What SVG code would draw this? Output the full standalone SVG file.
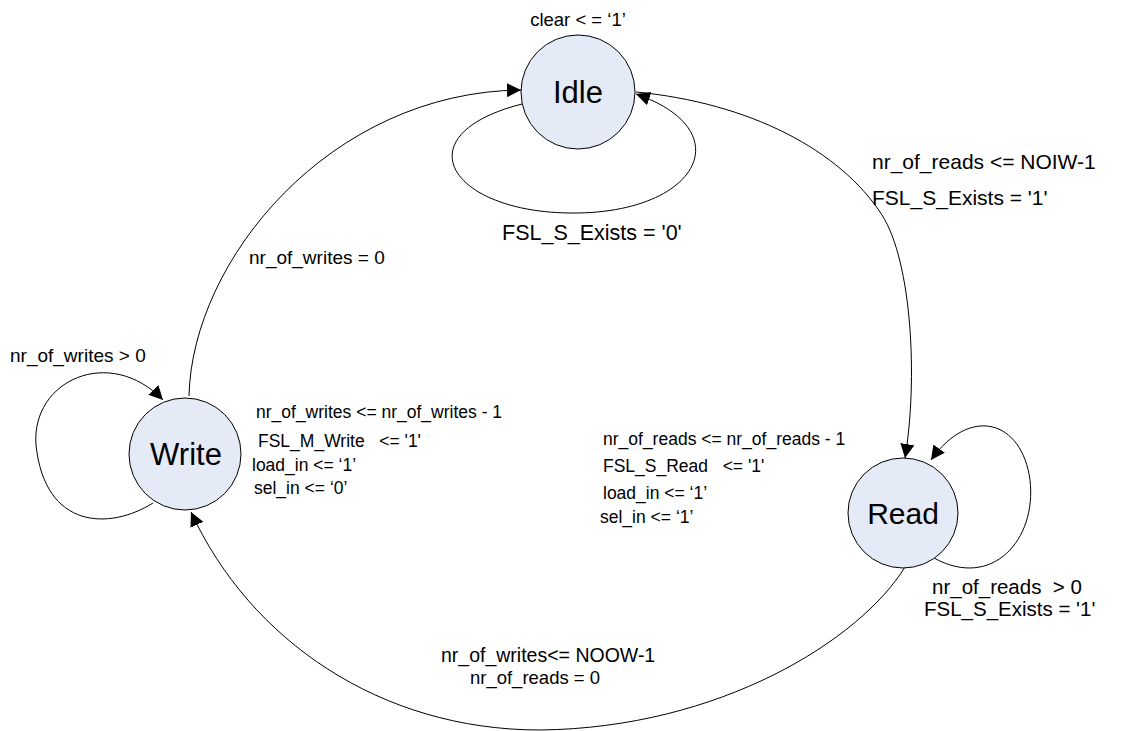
<svg xmlns="http://www.w3.org/2000/svg" width="1131" height="731" viewBox="0 0 1131 731">
  <style>
    .state { fill: #e4ebf6; stroke: #000; stroke-width: 1; }
    .name { font-family: "Liberation Sans", Arial, sans-serif; font-size: 30px; fill: #000; text-anchor: middle; }
    .lbl { font-family: "Liberation Sans", Arial, sans-serif; font-size: 17.5px; fill: #000; }
    .mid { text-anchor: middle; }
    .edge { fill: none; stroke: #000; stroke-width: 1; }
  </style>
  <defs>
    <marker id="arrow" viewBox="0 0 10 10" refX="10" refY="5" markerWidth="14" markerHeight="14" markerUnits="userSpaceOnUse" orient="auto">
      <path d="M0,0 L10,5 L0,10 z" fill="#000"/>
    </marker>
  </defs>
  <rect width="1131" height="731" fill="#fff"/>

  <!-- transitions -->
  <g id="connectors">
    <!-- Write -> Idle -->
    <path class="edge" d="M 189 396 C 192 260, 330 92, 521 90" marker-end="url(#arrow)"/>
    <!-- Idle self-loop -->
    <path class="edge" d="M 522 104 C 400 135, 450 215, 578 213 C 700 211, 740 130, 636 94" marker-end="url(#arrow)"/>
    <!-- Idle -> Read -->
    <path class="edge" d="M 636 92 C 750 103, 840 150, 882 215 C 912 262, 918 380, 905 458" marker-end="url(#arrow)"/>
    <!-- Write self-loop -->
    <path class="edge" d="M 153 503 C 110 530, 45 530, 36 445 C 31 380, 110 345, 163 400" marker-end="url(#arrow)"/>
    <!-- Read self-loop -->
    <path class="edge" d="M 934 558 C 992 590, 1037 540, 1030 480 C 1022 420, 970 405, 931 460" marker-end="url(#arrow)"/>
    <!-- Read -> Write -->
    <path class="edge" d="M 905 567 C 860 640, 720 728, 540 730 C 380 730, 250 640, 191 512" marker-end="url(#arrow)"/>
  </g>

  <g id="idle">
    <circle class="state" cx="578" cy="92" r="57"/>
    <text class="name" x="578" y="103" style="font-size:31px">Idle</text>
    <text class="lbl mid" x="578" y="26" style="font-size:18.5px">clear &lt; = ‘1’</text>
  </g>

  <g id="write">
    <circle class="state" cx="185" cy="454" r="56"/>
    <text class="name" x="186" y="465" style="font-size:31px">Write</text>
  </g>

  <g id="read">
    <circle class="state" cx="903" cy="513" r="55"/>
    <text class="name" x="903" y="524">Read</text>
  </g>

  <!-- transition labels -->
  <g id="labels">
    <text class="lbl" x="502" y="240" style="font-size:21.5px">FSL_S_Exists = '0'</text>
    <text class="lbl" x="872" y="169" style="font-size:21px">nr_of_reads &lt;= NOIW-1</text>
    <text class="lbl" x="872" y="205" style="font-size:21px">FSL_S_Exists = '1'</text>
    <text class="lbl" x="249" y="264" style="font-size:19px">nr_of_writes = 0</text>
    <text class="lbl" x="10" y="362" style="font-size:19px">nr_of_writes &gt; 0</text>
    <text class="lbl" x="256" y="418">nr_of_writes &lt;= nr_of_writes - 1</text>
    <text class="lbl" x="258" y="447" xml:space="preserve">FSL_M_Write   &lt;= '1'</text>
    <text class="lbl" x="252" y="471">load_in &lt;= ‘1’</text>
    <text class="lbl" x="254" y="494">sel_in &lt;= ‘0’</text>
    <text class="lbl" x="603" y="445">nr_of_reads &lt;= nr_of_reads - 1</text>
    <text class="lbl" x="603" y="472" xml:space="preserve">FSL_S_Read   &lt;= '1'</text>
    <text class="lbl" x="603" y="499">load_in &lt;= ‘1’</text>
    <text class="lbl" x="600" y="523">sel_in &lt;= ‘1’</text>
    <text class="lbl" x="932" y="594" style="font-size:20.5px" xml:space="preserve">nr_of_reads  &gt; 0</text>
    <text class="lbl" x="924" y="616" style="font-size:20.5px">FSL_S_Exists = '1'</text>
    <text class="lbl" x="441" y="662" style="font-size:19.5px">nr_of_writes&lt;= NOOW-1</text>
    <text class="lbl mid" x="535" y="684" style="font-size:18.5px">nr_of_reads = 0</text>
  </g>
</svg>
